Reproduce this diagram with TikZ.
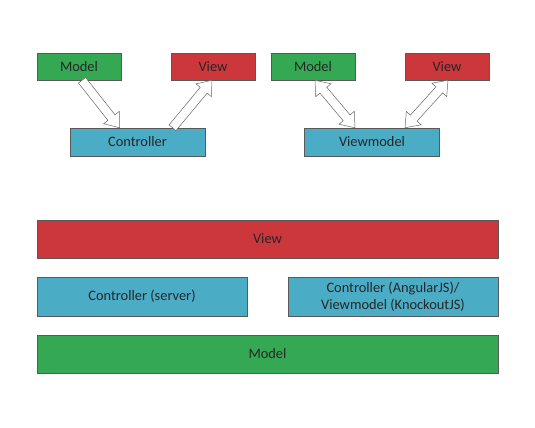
\documentclass[tikz,border=0pt]{standalone}
\usepackage{fontspec}
\setmainfont{Carlito}
\usetikzlibrary{calc}

\definecolor{mgreen}{RGB}{52,168,83}
\definecolor{vred}{RGB}{204,55,60}
\definecolor{cblue}{RGB}{75,172,198}

\tikzset{
  box/.style={draw=black!65, line width=0.5pt, inner sep=0pt, align=center,
    text=black!85, font=\fontsize{14.4}{16.5}\selectfont},
  model/.style={box, fill=mgreen},
  view/.style={box, fill=vred},
  ctrl/.style={box, fill=cblue},
  small/.style={minimum width=84pt, minimum height=27pt},
  mid/.style={minimum width=135pt, minimum height=28pt},
  bar/.style={minimum width=461pt, minimum height=38pt},
  half/.style={minimum width=210pt, minimum height=39pt},
  % hollow block arrows
  fatarrow/.style={draw=black!60, fill=white, line width=0.5pt, to path={
    let \p1=(\tikztostart), \p2=(\tikztotarget), \n1={atan2(\y2-\y1,\x2-\x1)} in
    ($(\p1)+(\n1+90:4.5pt)$) -- ($(\p2)+(\n1+180:13pt)+(\n1+90:4.5pt)$)
    -- ($(\p2)+(\n1+180:13pt)+(\n1+90:10pt)$) -- (\p2)
    -- ($(\p2)+(\n1+180:13pt)+(\n1-90:10pt)$) -- ($(\p2)+(\n1+180:13pt)+(\n1-90:4.5pt)$)
    -- ($(\p1)+(\n1-90:4.5pt)$) -- cycle}},
  fatdarrow/.style={draw=black!60, fill=white, line width=0.5pt, to path={
    let \p1=(\tikztostart), \p2=(\tikztotarget), \n1={atan2(\y2-\y1,\x2-\x1)} in
    (\p1) -- ($(\p1)+(\n1:13pt)+(\n1+90:10pt)$) -- ($(\p1)+(\n1:13pt)+(\n1+90:4.5pt)$)
    -- ($(\p2)+(\n1+180:13pt)+(\n1+90:4.5pt)$) -- ($(\p2)+(\n1+180:13pt)+(\n1+90:10pt)$)
    -- (\p2)
    -- ($(\p2)+(\n1+180:13pt)+(\n1-90:10pt)$) -- ($(\p2)+(\n1+180:13pt)+(\n1-90:4.5pt)$)
    -- ($(\p1)+(\n1:13pt)+(\n1-90:4.5pt)$) -- ($(\p1)+(\n1:13pt)+(\n1-90:10pt)$) -- cycle}}
}

\begin{document}
\begin{tikzpicture}[x=1pt, y=-1pt]
\useasboundingbox (0,0) rectangle (535,428);

%MVC
\node[model, small] (m1) at (79, 66.5) {Model};
\node[view, small] (v1) at (213, 66.5) {View};
\node[ctrl, mid] (c1) at (137.5, 142) {Controller};

\draw[fatarrow] ([xshift=3pt]m1.south) to ([xshift=-18pt]c1.north);
\draw[fatarrow] ([xshift=35pt]c1.north) to ([xshift=-1pt]v1.south);

%MVVM
\node[model, small] (m2) at (313, 66.5) {Model};
\node[view, small] (v2) at (447, 66.5) {View};
\node[ctrl, mid] (vm) at (372, 142) {Viewmodel};

\draw[fatdarrow] ([xshift=2pt]m2.south) to ([xshift=-17pt]vm.north);
\draw[fatdarrow] ([xshift=1pt]v2.south) to ([xshift=33pt]vm.north);

%Layers
\node[view, bar] (vbar) at (267.5, 239) {View};
\node[ctrl, half] (cs) at (142, 296.5) {Controller (server)};
\node[ctrl, half] (cj) at (393, 296.5) {Controller (AngularJS)/\\Viewmodel (KnockoutJS)};
\node[model, bar] (mbar) at (267.5, 354) {Model};

\end{tikzpicture}
\end{document}
